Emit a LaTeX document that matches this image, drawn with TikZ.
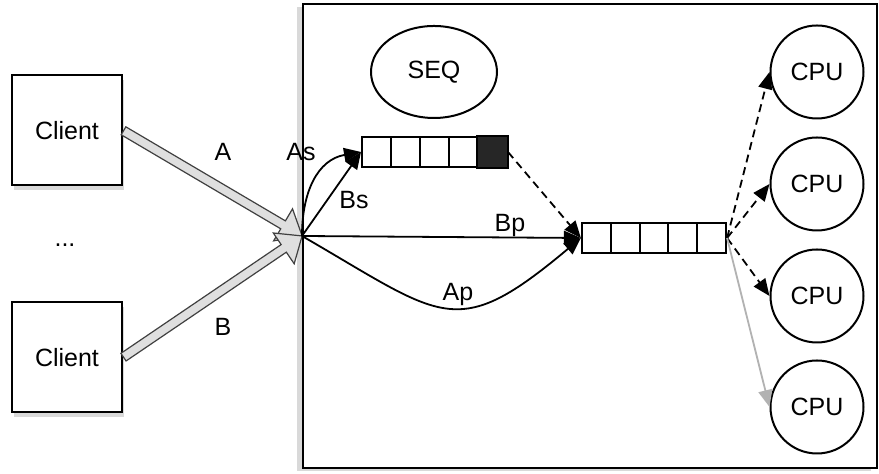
\documentclass[tikz,border=0pt]{standalone}
\usepackage{fontspec}
\setmainfont{Liberation Sans}
\usetikzlibrary{arrows.meta,shapes.geometric,shapes.arrows,shadows,calc,positioning}

\tikzset{
	box/.style={draw, line width=1pt, fill=white},
	cell/.style={draw, line width=1pt, fill=white, inner sep=0pt, minimum width=14.5pt, minimum height=15pt},
	tip/.style={-{Triangle[length=8.5pt,width=7pt]}},
	dsh/.style={line width=0.9pt, dash pattern=on 4pt off 2.5pt},
	fat/.style={single arrow, draw=black!75, fill=gray!25, line width=0.6pt, inner xsep=0pt, inner ysep=2pt, minimum width=0pt, single arrow head extend=7pt, single arrow tip angle=80}
}

\begin{document}
\begin{tikzpicture}[x=0.5pt,y=0.5pt,font=\fontsize{12.5}{14}\selectfont]
	\useasboundingbox (0,0) rectangle (879,474);
	
	% Server frame
	\node[box, minimum width=287pt, minimum height=232pt, drop shadow={shadow xshift=-3pt,shadow yshift=-1.5pt,opacity=.3}] (srv) at (590,238) {};
	\coordinate (hub) at (srv.west);
	
	% Clients
	\node[box, minimum size=55pt, drop shadow={shadow xshift=1pt,shadow yshift=-2.5pt,opacity=.3}] (c1) at (67,343.5) {Client};
	\node[box, minimum size=55pt, drop shadow={shadow xshift=1pt,shadow yshift=-2.5pt,opacity=.3}] (c2) at (67,116.5) {Client};
	\node (dots) at (65,229) {...};
	
	% Sequencer
	\node[ellipse, draw, line width=1pt, minimum width=63pt, minimum height=46pt] (seq) at (434,402) {SEQ};
	
	% Queues
	\foreach \i in {1,...,5} {
		\node[cell] (sq\i) at ({376.5+29*(\i-1)},322) {};
		\node[cell] (rq\i) at ({596.4+28.8*(\i-1)},236) {};
	}
	\filldraw[fill=black!85, line width=1pt] (sq5.south west) rectangle (sq5.north east);
	
	% CPUs
	\foreach \j/\y in {1/402,2/290,3/178,4/67}
		\node[circle, draw, line width=1pt, minimum size=46.5pt, inner sep=0pt] (cpu\j) at (817,\y) {CPU};
	
	% Client arrows
	\foreach \c in {c1,c2}
		\path let \p1=($(hub)-(\c.east)$), \n1={atan2(\y1,\x1)}, \n2={veclen(\x1,\y1)} in
			node[fat, rotate=\n1, minimum height=\n2, anchor=tail] (fat\c) at (\c.east) {};
	
	% Inner connectors
	\draw[tip, line width=0.9pt] (hub) to[out=90,in=190,looseness=1.1] (sq1.west);
	\draw[tip, line width=0.9pt] (hub) -- (sq1.west);
	\draw[tip, line width=0.9pt] (hub) -- (rq1.west);
	\draw[tip, line width=0.9pt] (hub) to[out=-30,in=-140,looseness=1.5] (rq1.west);
	\draw[tip, dsh] (sq5.east) -- (rq1.west);
	\foreach \j in {1,2,3}
		\draw[tip, dsh] (rq5.east) -- (cpu\j.west);
	\draw[tip, gray!60, line width=0.9pt] (rq5.east) -- (cpu4.west);
	
	% Add labels
	\node (lA) at (223,322) {A};
	\node (lB) at (223,147) {B};
	\node (lAs) at (301,322) {As};
	\node (lBs) at (354,274) {Bs};
	\node (lBp) at (510,248) {Bp};
	\node (lAp) at (458,179) {Ap};
\end{tikzpicture}
\end{document}
